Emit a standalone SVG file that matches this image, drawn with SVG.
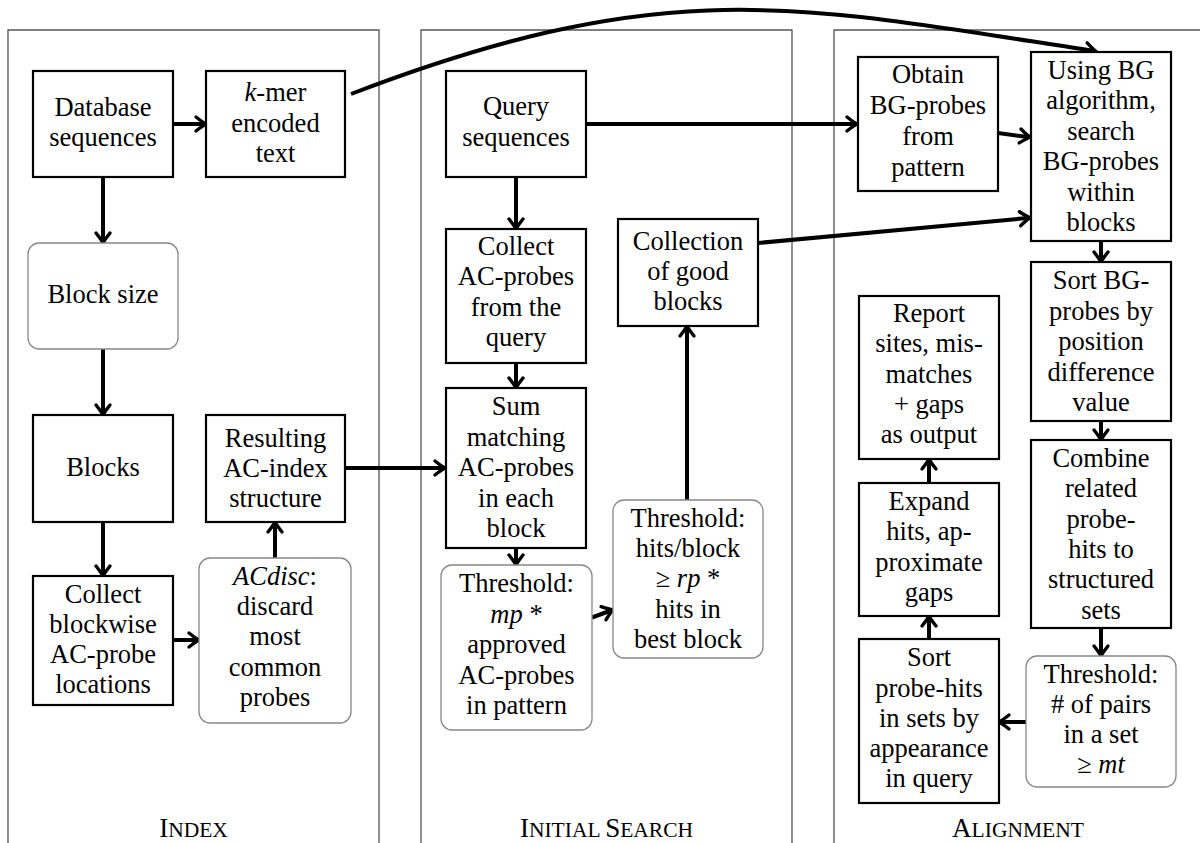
<svg xmlns="http://www.w3.org/2000/svg" width="1200" height="843" viewBox="0 0 1200 843">
<style>
text{font-family:"Liberation Serif","Times New Roman",serif;font-size:26.5px;fill:#000;text-anchor:middle}
.box{fill:#fff;stroke:#000;stroke-width:2.2}
.rbox{fill:#fff;stroke:#888;stroke-width:1.3}
.panel{fill:none;stroke:#555;stroke-width:1.3}
.lbl{font-size:27px}
.sc{font-size:21.5px}
.c{fill:none;stroke:#000;stroke-width:4;marker-end:url(#ah)}
</style>
<defs>
<marker id="ah" markerUnits="userSpaceOnUse" markerWidth="30" markerHeight="30" viewBox="-15 -15 30 30" refX="-2" refY="0" orient="auto" overflow="visible">
<path d="M-10,-7 Q-3,-1.5 0,0 Q-3,1.5 -10,7" fill="none" stroke="#000" stroke-width="3.4" stroke-linecap="round" stroke-linejoin="round"/>
</marker>
</defs>
<rect width="1200" height="843" fill="#fff"/>

<g id="panels">
<path class="panel" d="M8,844 V30 H379 V844"/>
<path class="panel" d="M421,844 V30 H792 V844"/>
<path class="panel" d="M834,844 V30 H1202"/>
<text class="lbl" x="193.5" y="837">I<tspan class="sc">NDEX</tspan></text>
<text class="lbl" x="606.5" y="837">I<tspan class="sc">NITIAL </tspan>S<tspan class="sc">EARCH</tspan></text>
<text class="lbl" x="1018" y="837">A<tspan class="sc">LIGNMENT</tspan></text>
</g>

<g id="connectors">
<path class="c" d="M173,124 H204"/>
<path class="c" d="M103,177 V241"/>
<path class="c" d="M103,349 V413"/>
<path class="c" d="M103,522 V574"/>
<path class="c" d="M173,640 H197"/>
<path class="c" d="M275,558 V524"/>
<path class="c" d="M345,468 H443"/>
<path class="c" d="M516,177 V227"/>
<path class="c" d="M516,363 V386"/>
<path class="c" d="M516,548 V563"/>
<path class="c" d="M592,617.5 L611,610.5"/>
<path class="c" d="M687,500 V328"/>
<path class="c" d="M586,124 H855"/>
<path class="c" d="M998,133 L1028,137"/>
<path class="c" d="M758,243 L1028,218"/>
<path class="c" d="M351,94 C670,-28 800,6 1094,51"/>
<path class="c" d="M1101,241 V260"/>
<path class="c" d="M1101,421 V438"/>
<path class="c" d="M1101,628 V654"/>
<path class="c" d="M1026,722 H1001"/>
<path class="c" d="M929,639 V618"/>
<path class="c" d="M929,483 V461"/>
</g>

<g id="db"><rect class="box" x="33" y="71" width="140" height="106"/>
<text x="103" y="116">Database</text><text x="103" y="146">sequences</text></g>
<g id="kmer"><rect class="box" x="206" y="71" width="139" height="106"/>
<text x="275.5" y="101"><tspan font-style="italic">k</tspan>-mer</text><text x="275.5" y="132">encoded</text><text x="275.5" y="162">text</text></g>
<g id="blocksize"><rect class="rbox" x="28" y="243" width="150" height="106" rx="11"/>
<text x="103" y="303">Block size</text></g>
<g id="blocks"><rect class="box" x="33" y="415" width="140" height="107"/>
<text x="103" y="476">Blocks</text></g>
<g id="resulting"><rect class="box" x="206" y="415" width="139" height="107"/>
<text x="275.5" y="447">Resulting</text><text x="275.5" y="477">AC-index</text><text x="275.5" y="507">structure</text></g>
<g id="collectbw"><rect class="box" x="33" y="576" width="140" height="129"/>
<text x="103" y="603">Collect</text><text x="103" y="633">blockwise</text><text x="103" y="663">AC-probe</text><text x="103" y="693">locations</text></g>
<g id="acdisc"><rect class="rbox" x="199" y="558" width="152" height="165" rx="11"/>
<text x="275" y="585"><tspan font-style="italic">ACdisc</tspan>:</text><text x="275" y="615">discard</text><text x="275" y="645">most</text><text x="275" y="676">common</text><text x="275" y="706">probes</text></g>

<g id="query"><rect class="box" x="446" y="71" width="140" height="106"/>
<text x="516" y="115">Query</text><text x="516" y="146">sequences</text></g>
<g id="collectac"><rect class="box" x="446" y="229" width="140" height="134"/>
<text x="516" y="255">Collect</text><text x="516" y="285">AC-probes</text><text x="516" y="316">from the</text><text x="516" y="346">query</text></g>
<g id="collection"><rect class="box" x="618" y="219" width="140" height="107"/>
<text x="688" y="250">Collection</text><text x="688" y="280">of good</text><text x="688" y="310">blocks</text></g>
<g id="sum"><rect class="box" x="446" y="388" width="140" height="160"/>
<text x="516" y="415">Sum</text><text x="516" y="446">matching</text><text x="516" y="476">AC-probes</text><text x="516" y="507">in each</text><text x="516" y="537">block</text></g>
<g id="thrmp"><rect class="rbox" x="441" y="565" width="151" height="165" rx="11"/>
<text x="516.5" y="592">Threshold:</text><text x="516.5" y="623"><tspan font-style="italic">mp</tspan> *</text><text x="516.5" y="653">approved</text><text x="516.5" y="684">AC-probes</text><text x="516.5" y="714">in pattern</text></g>
<g id="thrhits"><rect class="rbox" x="613" y="500" width="150" height="158" rx="11"/>
<text x="688" y="527">Threshold:</text><text x="688" y="557">hits/block</text><text x="688" y="587">≥ <tspan font-style="italic">rp</tspan> *</text><text x="688" y="618">hits in</text><text x="688" y="648">best block</text></g>

<g id="obtain"><rect class="box" x="858" y="57" width="140" height="134"/>
<text x="928" y="83">Obtain</text><text x="928" y="114">BG-probes</text><text x="928" y="145">from</text><text x="928" y="176">pattern</text></g>
<g id="using"><rect class="box" x="1031" y="52" width="140" height="189"/>
<text x="1101" y="78.5">Using BG</text><text x="1101" y="109">algorithm,</text><text x="1101" y="139.5">search</text><text x="1101" y="170">BG-probes</text><text x="1101" y="200.5">within</text><text x="1101" y="231">blocks</text></g>
<g id="sortbg"><rect class="box" x="1031" y="262" width="140" height="159"/>
<text x="1101" y="289">Sort BG-</text><text x="1101" y="320">probes by</text><text x="1101" y="350">position</text><text x="1101" y="381">difference</text><text x="1101" y="411">value</text></g>
<g id="combine"><rect class="box" x="1031" y="440" width="140" height="188"/>
<text x="1101" y="467">Combine</text><text x="1101" y="497">related</text><text x="1101" y="528">probe-</text><text x="1101" y="558">hits to</text><text x="1101" y="588">structured</text><text x="1101" y="619">sets</text></g>
<g id="thrmt"><rect class="rbox" x="1026" y="656" width="150" height="131" rx="11"/>
<text x="1101" y="683">Threshold:</text><text x="1101" y="713"># of pairs</text><text x="1101" y="743">in a set</text><text x="1101" y="773">≥ <tspan font-style="italic">mt</tspan></text></g>
<g id="sortprobe"><rect class="box" x="859" y="639" width="140" height="164"/>
<text x="929" y="666">Sort</text><text x="929" y="697">probe-hits</text><text x="929" y="727">in sets by</text><text x="929" y="757">appearance</text><text x="929" y="787">in query</text></g>
<g id="expand"><rect class="box" x="859" y="483" width="140" height="133"/>
<text x="929" y="510">Expand</text><text x="929" y="540">hits, ap-</text><text x="929" y="571">proximate</text><text x="929" y="601">gaps</text></g>
<g id="report"><rect class="box" x="859" y="296" width="140" height="163"/>
<text x="929" y="322">Report</text><text x="929" y="352">sites, mis-</text><text x="929" y="383">matches</text><text x="929" y="413">+ gaps</text><text x="929" y="443">as output</text></g>
</svg>
